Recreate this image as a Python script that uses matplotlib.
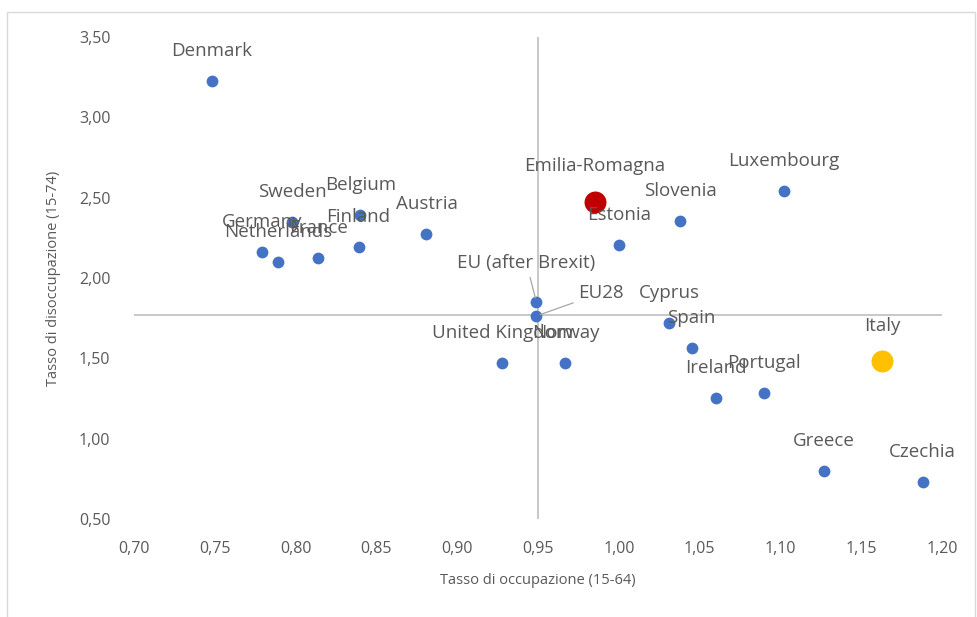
import matplotlib
matplotlib.use("Agg")
import matplotlib.pyplot as plt
from matplotlib.patches import Rectangle

# ---- data ----
countries = ["Denmark", "Sweden", "Belgium", "Austria", "Finland", "Germany",
             "Netherlands", "France", "EU (after Brexit)", "EU28", "United Kingdom",
             "Norway", "Cyprus", "Spain", "Ireland", "Portugal", "Greece", "Czechia",
             "Slovenia", "Luxembourg", "Estonia"]
occ = [0.748, 0.798, 0.840, 0.881, 0.839, 0.779,
       0.789, 0.814, 0.949, 0.949, 0.928,
       0.967, 1.031, 1.045, 1.060, 1.090, 1.127, 1.188,
       1.038, 1.102, 1.000]
disocc = [3.226, 2.349, 2.392, 2.274, 2.193, 2.162,
          2.100, 2.125, 1.851, 1.764, 1.471,
          1.471, 1.720, 1.564, 1.253, 1.284, 0.799, 0.730,
          2.355, 2.542, 2.205]

italy_name = "Italy"
italy_x, italy_y = 1.163, 1.483
er_name = "Emilia-Romagna"
er_x, er_y = 0.985, 2.473

x_cross = 0.95
y_cross = 1.77

xticks = [0.70, 0.75, 0.80, 0.85, 0.90, 0.95, 1.00, 1.05, 1.10, 1.15, 1.20]
yticks = [0.50, 1.00, 1.50, 2.00, 2.50, 3.00, 3.50]

# ---- styling ----
plt.rcParams['font.family'] = ['Open Sans', 'DejaVu Sans']
GRAY_TXT = "#595959"
GRAY_LINE = "#BFBFBF"
BLUE = "#4472C4"

W, H = 978, 617
fig = plt.figure(figsize=(W / 100, H / 100), dpi=100)
fig.patches.append(Rectangle((7 / W, -0.05), (975 - 7) / W, 1 - 12 / H + 0.05,
                             transform=fig.transFigure, fill=False,
                             edgecolor="#D9D9D9", lw=1.0))

ax = fig.add_axes([134 / W, 1 - 519 / H, (942 - 134) / W, (519 - 37) / H])
ax.set_xlim(0.70, 1.20)
ax.set_ylim(0.50, 3.50)
for s in ax.spines.values():
    s.set_visible(False)

ax.axhline(y_cross, color=GRAY_LINE, lw=1.2, zorder=1)
ax.axvline(x_cross, color=GRAY_LINE, lw=1.2, zorder=1)

ax.set_xticks(xticks)
ax.set_yticks(yticks)
ax.set_xticklabels([f"{v:.2f}".replace(".", ",") for v in xticks])
ax.set_yticklabels([f"{v:.2f}".replace(".", ",") for v in yticks])
ax.tick_params(axis="both", length=0, labelsize=11.5, colors=GRAY_TXT)
ax.tick_params(axis="x", pad=16)
ax.tick_params(axis="y", pad=17)

ax.set_xlabel("Tasso di occupazione (15-64)", fontsize=10.5, color=GRAY_TXT, labelpad=11)
ax.set_ylabel("Tasso di disoccupazione (15-74)", fontsize=10.5, color=GRAY_TXT, labelpad=13)

ax.scatter(occ, disocc, s=72, color=BLUE, zorder=3, linewidths=0)
ax.scatter([italy_x], [italy_y], s=250, color="#FFC000", zorder=3, linewidths=0)
ax.scatter([er_x], [er_y], s=250, color="#C00000", zorder=3, linewidths=0)

PT = 0.72  # points per pixel at 100 dpi
special = {
    "EU (after Brexit)": (-10, 39),
    "EU28": (65, 23),
}
lab_kw = dict(fontsize=13.5, color=GRAY_TXT, ha="center", va="center", zorder=4)
for name, x, y in zip(countries, occ, disocc):
    if name in special:
        dx, dy = special[name]
        ax.annotate(name, (x, y), xytext=(dx * PT, dy * PT), textcoords="offset points",
                    arrowprops=dict(arrowstyle="-", color="#A6A6A6", lw=0.9,
                                    shrinkA=2, shrinkB=3), **lab_kw)
    else:
        ax.annotate(name, (x, y), xytext=(0, 30 * PT), textcoords="offset points", **lab_kw)

ax.annotate(italy_name, (italy_x, italy_y), xytext=(0, 35 * PT), textcoords="offset points", **lab_kw)
ax.annotate(er_name, (er_x, er_y), xytext=(0, 36 * PT), textcoords="offset points", **lab_kw)

fig.savefig("out.png", dpi=100)
